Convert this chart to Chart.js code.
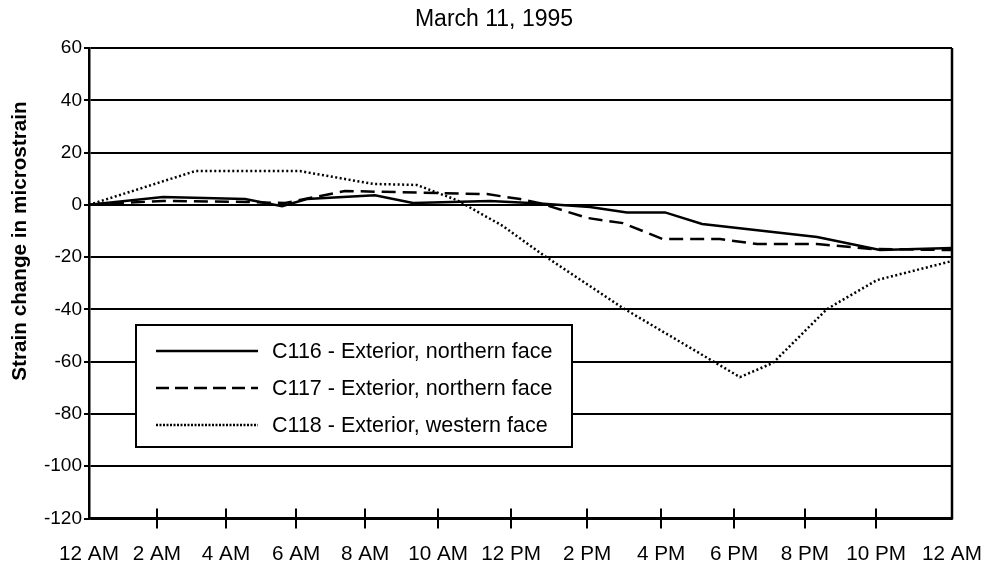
<!DOCTYPE html>
<html>
<head>
<meta charset="utf-8">
<title>Strain change, March 11, 1995</title>
<script src="https://cdn.jsdelivr.net/npm/chart.js@4/dist/chart.umd.min.js"></script>
<style>
  html, body { margin: 0; padding: 0; background: #ffffff; }
  #wrap { width: 987px; height: 568px; }
</style>
</head>
<body>
<div id="wrap"><canvas id="chart" width="987" height="568"></canvas></div>
<script>
// Time axis: positions of the labelled ticks (axis units) and their labels
const tickHours  = [0, 1.89, 3.81, 5.76, 7.68, 9.71, 11.74, 13.85, 15.91, 17.94, 19.91, 21.89, 24];
const tickLabels = ['12 AM', '2 AM', '4 AM', '6 AM', '8 AM', '10 AM', '12 PM',
                    '2 PM', '4 PM', '6 PM', '8 PM', '10 PM', '12 AM'];

// Strain ticks
const strainMin = -120;
const strainMax = 60;
const strainStep = 20;

// Series labels
const seriesLabels = [
  'C116 - Exterior, northern face',
  'C117 - Exterior, northern face',
  'C118 - Exterior, western face'
];

// C116 - exterior gauge, northern face
const c116Time   = [0, 2.06, 4.34, 5.37, 6.06, 7.95, 9.01, 11.15, 12.54, 13.93, 14.96, 16.02, 17.05, 20.25, 22.00, 24];
const c116Strain = [0, 3.0, 2.2, -0.5, 2.2, 3.7, 0.7, 1.5, 0.5, -0.8, -2.9, -2.9, -7.3, -12.3, -17.3, -16.5];

// C117 - exterior gauge, northern face
const c117Time   = [0, 2.06, 4.34, 5.45, 7.12, 9.76, 11.07, 11.99, 12.54, 13.85, 14.85, 15.96, 17.55, 18.58, 20.25, 21.80, 24];
const c117Strain = [0, 1.5, 1.1, 0.7, 5.3, 4.5, 4.1, 2.2, 0.6, -5.0, -7.0, -13.1, -13.1, -15.0, -15.0, -16.9, -17.3];

// C118 - exterior gauge, western face
const c118Time   = [0, 2.95, 5.87, 7.90, 9.12, 10.23, 11.51, 12.63, 14.85, 18.10, 19.02, 20.52, 21.91, 24];
const c118Strain = [0, 12.9, 12.9, 8.0, 7.6, 1.8, -8.1, -19.2, -39.5, -65.9, -60.5, -39.9, -28.8, -21.5];

const FONT = "'Liberation Sans', Arial, Helvetica, sans-serif";

function pairs(xs, ys) {
  return xs.map((x, i) => ({ x: x, y: ys[i] }));
}

// Title, y-axis caption, right frame edge and crossing x tick marks
const framePlugin = {
  id: 'frame',
  afterDraw(chart) {
    const ctx = chart.ctx;
    const area = chart.chartArea;
    const xs = chart.scales.x;
    ctx.save();
    ctx.strokeStyle = '#000';
    ctx.lineWidth = 2.5;
    ctx.beginPath();
    ctx.moveTo(area.right, area.top);
    ctx.lineTo(area.right, area.bottom + 1);
    ctx.stroke();

    ctx.lineWidth = 2;
    xs.ticks.forEach((t, i) => {
      if (i === 0 || i === xs.ticks.length - 1) return;
      const px = Math.round(xs.getPixelForValue(t.value));
      ctx.beginPath();
      ctx.moveTo(px, area.bottom - 10);
      ctx.lineTo(px, area.bottom + 10);
      ctx.stroke();
    });

    ctx.fillStyle = '#000';
    ctx.textAlign = 'center';
    ctx.textBaseline = 'middle';
    ctx.font = '23px ' + FONT;
    ctx.fillText('March 11, 1995', 494, 20);

    ctx.translate(20, 241);
    ctx.rotate(-Math.PI / 2);
    ctx.font = 'bold 20.7px ' + FONT;
    ctx.fillText('Strain change in microstrain', 0, 0);
    ctx.restore();
  }
};

// Boxed legend inside the plot
const boxLegendPlugin = {
  id: 'boxLegend',
  afterDatasetsDraw(chart) {
    const ctx = chart.ctx;
    const box = { x: 136, y: 325, w: 436, h: 122 };
    const rows = [351, 388, 425];
    ctx.save();
    ctx.fillStyle = '#fff';
    ctx.fillRect(box.x, box.y, box.w, box.h);
    ctx.strokeStyle = '#000';
    ctx.lineWidth = 2;
    ctx.strokeRect(box.x, box.y, box.w, box.h);

    chart.data.datasets.forEach((ds, i) => {
      const y = rows[i];
      ctx.beginPath();
      ctx.setLineDash(ds.legendDash || []);
      ctx.lineWidth = ds.borderWidth;
      ctx.strokeStyle = ds.borderColor;
      ctx.moveTo(156, y);
      ctx.lineTo(258, y);
      ctx.stroke();
      ctx.setLineDash([]);
      ctx.fillStyle = '#000';
      ctx.font = '21.5px ' + FONT;
      ctx.textAlign = 'left';
      ctx.textBaseline = 'middle';
      ctx.fillText(ds.label, 272, y + 1);
    });
    ctx.restore();
  }
};

new Chart(document.getElementById('chart'), {
  type: 'line',
  data: {
    datasets: [
      {
        label: seriesLabels[0],
        data: pairs(c116Time, c116Strain),
        borderColor: '#000',
        borderWidth: 2.5,
        borderDash: [],
        legendDash: []
      },
      {
        label: seriesLabels[1],
        data: pairs(c117Time, c117Strain),
        borderColor: '#000',
        borderWidth: 2.5,
        borderDash: [14, 7],
        legendDash: [13, 6]
      },
      {
        label: seriesLabels[2],
        data: pairs(c118Time, c118Strain),
        borderColor: '#000',
        borderWidth: 2.5,
        borderDash: [2, 2.5],
        legendDash: [2, 1.5]
      }
    ]
  },
  options: {
    responsive: false,
    animation: false,
    parsing: false,
    elements: {
      line: { tension: 0, fill: false, borderCapStyle: 'butt', borderJoinStyle: 'miter' },
      point: { radius: 0, hoverRadius: 0 }
    },
    layout: { padding: { top: 48, right: 35, left: 0, bottom: 0 } },
    plugins: {
      legend: { display: false },
      title: { display: false },
      tooltip: { enabled: false }
    },
    scales: {
      x: {
        type: 'linear',
        min: 0,
        max: 24,
        afterBuildTicks(scale) {
          scale.ticks = tickHours.map(v => ({ value: v }));
        },
        afterFit(scale) {
          scale.height = 49.5;
          scale.paddingLeft = 0;
          scale.paddingRight = 0;
        },
        grid: { display: false },
        border: { display: true, color: '#000', width: 2.5 },
        ticks: {
          autoSkip: false,
          maxRotation: 0,
          minRotation: 0,
          padding: 15,
          color: '#000',
          font: { family: FONT, size: 20.7 },
          callback: (value, index) => tickLabels[index]
        }
      },
      y: {
        type: 'linear',
        min: strainMin,
        max: strainMax,
        afterFit(scale) {
          scale.width = 89;
          scale.paddingTop = 0;
          scale.paddingBottom = 0;
        },
        grid: {
          color: '#000',
          lineWidth: 2,
          tickColor: '#000',
          tickWidth: 2,
          tickLength: 5,
          drawTicks: true
        },
        border: { display: true, color: '#000', width: 2.5 },
        ticks: {
          stepSize: strainStep,
          padding: 2,
          color: '#000',
          font: { family: FONT, size: 19 }
        }
      }
    }
  },
  plugins: [framePlugin, boxLegendPlugin]
});
</script>
</body>
</html>
